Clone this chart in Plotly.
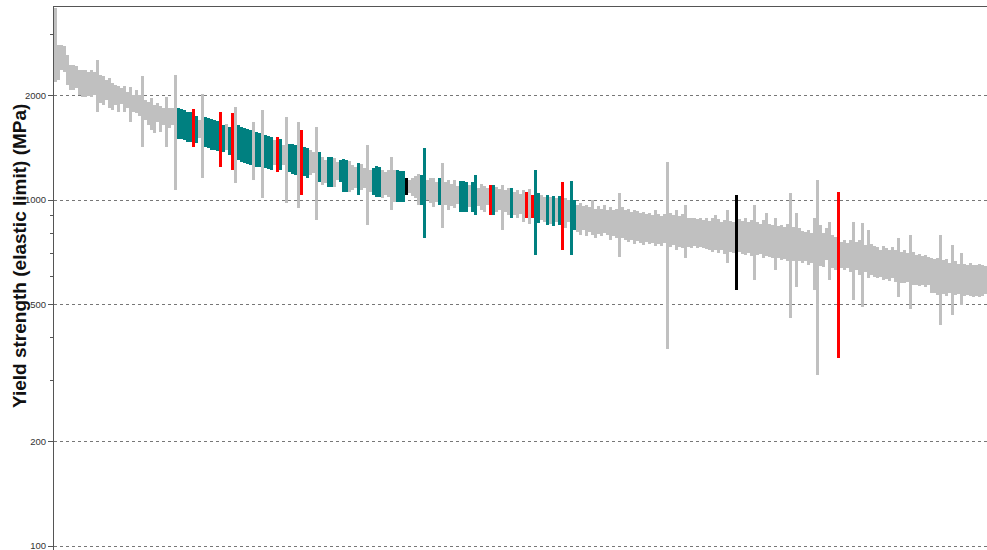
import plotly.graph_objects as go

# Yield strength ranges (MPa) per record, sorted by decreasing strength
low_mpa = [
    2200, 2220, 2380, 2340, 2150, 2080, 2080, 2110, 2010, 1990,
    1990, 2000, 1990, 2010, 1800, 1910, 1880, 1945, 1840, 1820,
    1880, 1800, 1895, 1800, 1840, 1680, 1800, 1790, 1750, 1420,
    1700, 1650, 1590, 1560, 1680, 1570, 1650, 1420, 1620, 1650,
    1070, 1500, 1500, 1490, 1470, 1470, 1420, 1460, 1510, 1160,
    1420, 1410, 1400, 1395, 1385, 1245, 1375, 1395, 1350, 1220,
    1120, 1305, 1290, 1280, 1270, 1260, 1140, 1245, 1245, 1015,
    1235, 1230, 1220, 1260, 1205, 1220, 1260, 980, 1205, 1190,
    1180, 950, 1035, 1175, 1160, 1180, 1200, 875, 1130, 1105,
    1120, 1090, 1090, 1090, 1140, 1130, 1055, 1055, 1055, 1070,
    1085, 1035, 1070, 1085, 845, 1055, 1035, 1020, 1020, 1015,
    1035, 1020, 935, 985, 985, 985, 985, 1035, 1045, 1025,
    1015, 965, 965, 775, 1000, 980, 955, 985, 965, 830,
    965, 935, 960, 950, 975, 925, 925, 925, 955, 925,
    905, 960, 935, 925, 965, 905, 905, 925, 935, 820,
    925, 905, 890, 905, 890, 910, 865, 890, 850, 890,
    695, 860, 875, 865, 845, 850, 840, 865, 845, 715,
    830, 865, 695, 820, 810, 790, 820, 785, 810, 790,
    775, 800, 785, 805, 790, 765, 785, 775, 685, 775,
    765, 755, 765, 745, 760, 750, 740, 755, 745, 750,
    735, 745, 735, 750, 370, 730, 740, 715, 730, 725,
    680, 730, 725, 735, 725, 730, 725, 720, 715, 710,
    715, 705, 715, 700, 660, 710, 705, 550, 710, 700,
    695, 705, 690, 587, 695, 700, 680, 690, 685, 680,
    628, 680, 670, 675, 665, 455, 665, 560, 665, 660,
    665, 650, 660, 550, 312, 645, 640, 670, 587, 635,
    628, 350, 635, 628, 635, 620, 514, 628, 607, 490,
    620, 595, 607, 600, 595, 600, 587, 590, 585, 595,
    580, 525, 575, 575, 580, 485, 570, 568, 565, 570,
    560, 568, 540, 537, 531, 435, 534, 528, 537, 465,
    531, 534, 497, 528, 531, 528, 525, 528, 525, 528,
    534,
]

high_mpa = [
    3600, 2800, 2800, 2780, 2620, 2460, 2460, 2440, 2380, 2380,
    2380, 2350, 2380, 2350, 2540, 2300, 2280, 2220, 2250, 2180,
    2150, 2140, 2110, 2140, 2050, 2120, 2010, 2080, 2010, 2280,
    1945, 1920, 1970, 1880, 1910, 1870, 1840, 1985, 1850, 1840,
    2300, 1840, 1830, 1820, 1800, 1800, 1830, 1750, 1700, 2030,
    1740, 1730, 1720, 1700, 1690, 1800, 1650, 1660, 1625, 1790,
    1860, 1650, 1625, 1615, 1600, 1595, 1680, 1570, 1560, 1820,
    1540, 1530, 1520, 1490, 1520, 1500, 1440, 1740, 1450, 1450,
    1440, 1680, 1590, 1425, 1415, 1395, 1375, 1625, 1375, 1330,
    1305, 1330, 1330, 1320, 1290, 1305, 1315, 1305, 1295, 1260,
    1245, 1280, 1270, 1240, 1440, 1220, 1240, 1255, 1245, 1220,
    1205, 1220, 1330, 1220, 1220, 1210, 1210, 1160, 1140, 1160,
    1175, 1190, 1180, 1415, 1140, 1160, 1160, 1125, 1160, 1280,
    1125, 1140, 1110, 1140, 1095, 1135, 1135, 1125, 1105, 1125,
    1180, 1085, 1110, 1095, 1085, 1105, 1105, 1090, 1075, 1105,
    1070, 1085, 1085, 1055, 1070, 1040, 1070, 1055, 1075, 1035,
    1220, 1045, 1035, 1020, 1035, 1020, 1025, 1015, 1025, 1125,
    1015, 1000, 1135, 1000, 965, 980, 960, 965, 955, 1000,
    945, 960, 940, 965, 935, 955, 935, 945, 1045, 955,
    935, 945, 925, 935, 930, 915, 925, 910, 915, 905,
    935, 910, 900, 910, 1290, 915, 905, 935, 900, 910,
    965, 890, 885, 890, 880, 885, 875, 885, 870, 885,
    905, 880, 865, 875, 935, 870, 865, 1035, 880, 870,
    885, 865, 875, 965, 865, 855, 875, 920, 855, 845,
    890, 840, 845, 835, 855, 1050, 835, 920, 830, 815,
    810, 820, 805, 890, 1140, 845, 805, 830, 865, 790,
    780, 1055, 755, 765, 750, 765, 865, 755, 765, 860,
    740, 820, 745, 735, 730, 715, 735, 725, 715, 730,
    715, 775, 710, 715, 705, 790, 710, 695, 700, 690,
    695, 685, 680, 675, 680, 790, 670, 675, 660, 740,
    665, 655, 705, 655, 650, 660, 650, 650, 655, 650,
    645,
]

# Material family of each record: g = other, t = highlighted, r = selected, k = reference
family = (
    "gggggggggg" "gggggggggg" "gggggggggg" "gggggggggg"
    "gtttttrtgg" "tttttrtgtr" "gtttttgttg" "tttgrtggtt"
    "tgrttgggtg" "gttggtttgg" "gtggggtttg" "ggggtttkgg"
    "ggttggggtg" "gggggtttgt" "tggggrtggg" "ggtggggrgr"
    "ttggtgtgtr" "ggttgggggg" "gggggggggg" "gggggggggg"
    "gggggggggg" "gggggggggg" "gggggggkgg" "gggggggggg"
    "gggggggggg" "gggggggggg" "grgggggggg" "gggggggggg"
    "gggggggggg" "gggggggggg" "gggggggggg" "g"
)

palette = {"g": "#c0c0c0", "t": "#008080", "r": "#ff0000", "k": "#000000"}

tick_vals = [100, 200, 500, 1000, 2000]
tick_text = ["100", "200", "500", "1000", "2000"]
minor_vals = [300, 400, 600, 700, 800, 900, 3000]
y_title = "<b>Yield strength (elastic limit) (MPa)</b>"

n = len(low_mpa)
idx = list(range(n))
sizes = [h - l for h, l in zip(high_mpa, low_mpa)]
colors = [palette[c] for c in family[:n]]

fig = go.Figure(
    go.Bar(
        x=idx,
        y=sizes,
        base=low_mpa,
        width=1.0,
        marker=dict(color=colors, line=dict(width=0)),
        hovertemplate="%{base:.0f} - %{customdata:.0f} MPa<extra></extra>",
        customdata=high_mpa,
    )
)

fig.update_layout(
    width=987,
    height=550,
    margin=dict(l=54, r=0, t=7, b=0, autoexpand=False),
    plot_bgcolor="white",
    paper_bgcolor="white",
    bargap=0,
    showlegend=False,
    font=dict(family="Liberation Sans, Arial, sans-serif", color="#333333", size=11),
)

fig.update_xaxes(
    range=[-0.5, n - 0.5],
    side="top",
    showline=True,
    linecolor="#555555",
    linewidth=1,
    showticklabels=False,
    ticks="",
    showgrid=False,
    zeroline=False,
    automargin=False,
)

fig.update_yaxes(
    type="log",
    range=[1.9886, 3.558],
    tickvals=tick_vals,
    ticktext=tick_text,
    ticks="outside",
    ticklen=5,
    tickcolor="#555555",
    ticklabeloverflow="allow",
    showline=True,
    linecolor="#555555",
    linewidth=1,
    showgrid=True,
    gridcolor="#777777",
    griddash="dot",
    gridwidth=1,
    zeroline=False,
    automargin=False,
    tickfont=dict(size=9.5, color="#333333"),
    minor=dict(tickvals=minor_vals, ticks="outside", ticklen=3, tickcolor="#555555", showgrid=False),
)

fig.add_annotation(
    text=y_title,
    xref="paper",
    yref="paper",
    x=0,
    y=0.5414,
    xshift=-35,
    xanchor="center",
    yanchor="middle",
    textangle=-90,
    showarrow=False,
    font=dict(size=19, color="#111111", family="Liberation Sans, Arial, sans-serif"),
)

fig.write_html(
    "out.html",
    config={"displayModeBar": False},
    post_script="document.body.style.margin='0';document.body.style.overflow='hidden';",
)
